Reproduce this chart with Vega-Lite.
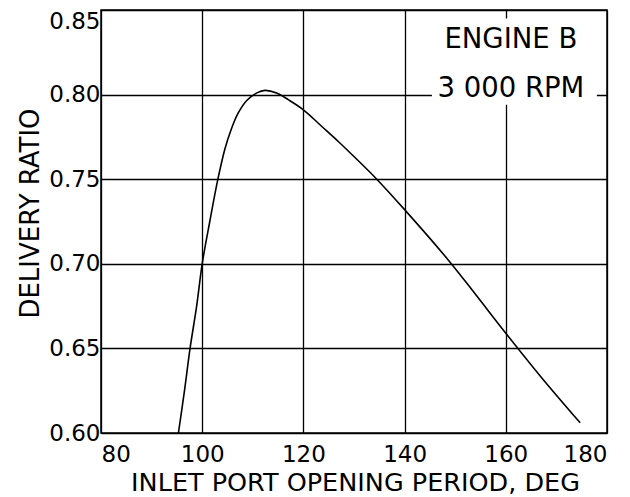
{
  "$schema": "https://vega.github.io/schema/vega-lite/v6.json",
  "width": 506,
  "height": 423,
  "autosize": {"type": "none"},
  "padding": {"left": 101, "top": 10, "right": 23, "bottom": 64},
  "background": "white",
  "config": {
    "view": {"stroke": "black", "strokeWidth": 1.5},
    "font": "DejaVu Sans",
    "axis": {
      "grid": true,
      "gridColor": "black",
      "gridWidth": 1.3,
      "gridOpacity": 1,
      "domain": false,
      "ticks": false,
      "labelColor": "black",
      "labelFont": "DejaVu Sans",
      "titleFont": "DejaVu Sans",
      "titleFontWeight": "normal",
      "titleColor": "black"
    }
  },
  "datasets": {
    "curve": [
      {"period": 95.3, "ratio": 0.600},
      {"period": 96.5, "ratio": 0.625},
      {"period": 97.6, "ratio": 0.650},
      {"period": 98.9, "ratio": 0.675},
      {"period": 100.0, "ratio": 0.700},
      {"period": 101.5, "ratio": 0.725},
      {"period": 103.1, "ratio": 0.750},
      {"period": 104.5, "ratio": 0.768},
      {"period": 105.8, "ratio": 0.780},
      {"period": 107.1, "ratio": 0.789},
      {"period": 108.8, "ratio": 0.7965},
      {"period": 110.8, "ratio": 0.801},
      {"period": 112.4, "ratio": 0.8025},
      {"period": 114.7, "ratio": 0.801},
      {"period": 117.0, "ratio": 0.797},
      {"period": 120.0, "ratio": 0.791},
      {"period": 123.7, "ratio": 0.781},
      {"period": 127.0, "ratio": 0.772},
      {"period": 130.3, "ratio": 0.7625},
      {"period": 134.5, "ratio": 0.750},
      {"period": 140.0, "ratio": 0.732},
      {"period": 148.7, "ratio": 0.702},
      {"period": 154.0, "ratio": 0.682},
      {"period": 160.0, "ratio": 0.659},
      {"period": 167.0, "ratio": 0.633},
      {"period": 174.7, "ratio": 0.606}
    ],
    "box": [
      {"x1": 145.4, "x2": 178.0, "y1": 0.794, "y2": 0.845}
    ],
    "labels": [
      {"period": 161.0, "ratio": 0.8275, "text": "ENGINE B"},
      {"period": 161.0, "ratio": 0.7986, "text": "3 000 RPM"}
    ]
  },
  "layer": [
    {
      "data": {"name": "box"},
      "mark": {"type": "rect", "fill": "white", "stroke": null},
      "encoding": {
        "x": {"field": "x1", "type": "quantitative", "scale": {"domain": [80, 180], "nice": false, "zero": false},
          "axis": {
            "values": [80, 100, 120, 140, 160, 180],
            "labelFontSize": 23,
            "labelFlush": true,
            "labelPadding": 10,
            "title": "INLET PORT OPENING PERIOD,  DEG",
            "titleFontSize": 25.5,
            "titleX": 254,
            "titleY": 57,
            "titleBaseline": "alphabetic",
            "titleAlign": "center"
          }
        },
        "x2": {"field": "x2"},
        "y": {"field": "y1", "type": "quantitative", "scale": {"domain": [0.6, 0.85], "nice": false, "zero": false},
          "axis": {
            "values": [0.6, 0.65, 0.7, 0.75, 0.8, 0.85],
            "format": ".2f",
            "labelFontSize": 23,
            "labelPadding": 1,
            "labelBaseline": {"expr": "datum.value > 0.84 ? 'top' : 'middle'"},
            "title": "DELIVERY RATIO",
            "titleFontSize": 26,
            "titleAngle": 270,
            "titleX": -63,
            "titleY": 203,
            "titleBaseline": "alphabetic",
            "titleAlign": "center"
          }
        },
        "y2": {"field": "y2"}
      }
    },
    {
      "data": {"name": "curve"},
      "mark": {"type": "line", "color": "black", "strokeWidth": 1.6, "interpolate": "catmull-rom"},
      "encoding": {
        "x": {"field": "period", "type": "quantitative"},
        "y": {"field": "ratio", "type": "quantitative"}
      }
    },
    {
      "data": {"name": "labels"},
      "mark": {"type": "text", "fontSize": 27.5, "font": "DejaVu Sans", "baseline": "alphabetic", "align": "center", "color": "black"},
      "encoding": {
        "x": {"field": "period", "type": "quantitative"},
        "y": {"field": "ratio", "type": "quantitative"},
        "text": {"field": "text"}
      }
    }
  ]
}
